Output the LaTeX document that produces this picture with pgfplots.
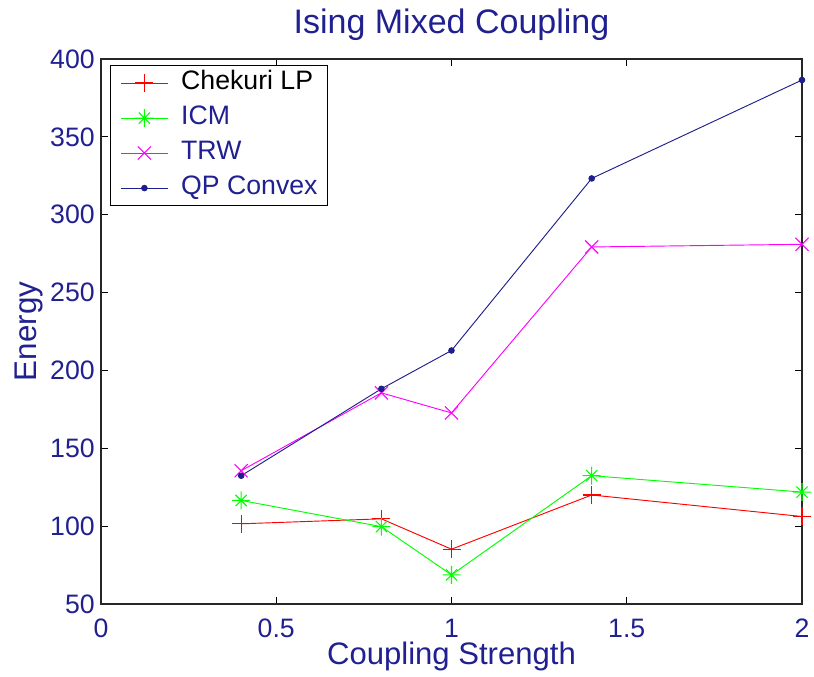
\documentclass[border=0pt]{standalone}
\usepackage{pgfplots}
\pgfplotsset{compat=1.18}
\usepackage{fontspec}
\setmainfont{Liberation Sans}
\definecolor{matnavy}{RGB}{32,32,144}
\definecolor{linenavy}{RGB}{30,30,140}
\definecolor{mred}{RGB}{255,0,0}
\definecolor{mgreen}{RGB}{0,255,0}
\definecolor{mmag}{RGB}{255,0,255}

\pgfdeclareplotmark{mx}{%
  \pgfpathmoveto{\pgfqpoint{-\pgfplotmarksize}{-\pgfplotmarksize}}%
  \pgfpathlineto{\pgfqpoint{\pgfplotmarksize}{\pgfplotmarksize}}%
  \pgfpathmoveto{\pgfqpoint{-\pgfplotmarksize}{\pgfplotmarksize}}%
  \pgfpathlineto{\pgfqpoint{\pgfplotmarksize}{-\pgfplotmarksize}}%
  \pgfusepathqstroke}
\pgfdeclareplotmark{mstar}{%
  \pgfpathmoveto{\pgfqpoint{-\pgfplotmarksize}{0pt}}%
  \pgfpathlineto{\pgfqpoint{\pgfplotmarksize}{0pt}}%
  \pgfpathmoveto{\pgfqpoint{0pt}{-\pgfplotmarksize}}%
  \pgfpathlineto{\pgfqpoint{0pt}{\pgfplotmarksize}}%
  \pgfpathmoveto{\pgfqpoint{-.62\pgfplotmarksize}{-.62\pgfplotmarksize}}%
  \pgfpathlineto{\pgfqpoint{.62\pgfplotmarksize}{.62\pgfplotmarksize}}%
  \pgfpathmoveto{\pgfqpoint{-.62\pgfplotmarksize}{.62\pgfplotmarksize}}%
  \pgfpathlineto{\pgfqpoint{.62\pgfplotmarksize}{-.62\pgfplotmarksize}}%
  \pgfusepathqstroke}

\begin{document}
\begin{tikzpicture}
\useasboundingbox (0,0) rectangle (610.5pt,507pt);
\begin{axis}[
  at={(75.75pt,54pt)}, anchor=south west,
  scale only axis, width=525.75pt, height=408.75pt,
  xmin=0, xmax=2, ymin=50, ymax=400,
  xtick={0,0.5,1,1.5,2}, ytick={50,100,...,400},
  tick align=inside, major tick length=5pt,
  axis line style={line width=0.9pt, black!85},
  every tick/.style={black, line width=0.7pt},
  clip=false,
  /pgf/number format/assume math mode=true,
  tick label style={font=\fontsize{20}{24}\selectfont, text=matnavy},
  xticklabel style={anchor=base, yshift=-24.75pt, inner sep=0pt},
  yticklabel style={anchor=east, xshift=-4.5pt, inner sep=0pt},
  title={Ising Mixed Coupling},
  title style={font=\fontsize{25.5}{30}\selectfont, text=matnavy, at={(axis description cs:0.5,1.0459)}, anchor=base, inner sep=0pt, yshift=-6pt},
  xlabel={Coupling Strength},
  xlabel style={font=\fontsize{23.3}{28}\selectfont, text=matnavy, at={(axis description cs:0.5,-0.1119)}, anchor=base, inner sep=0pt},
  ylabel={Energy},
  ylabel style={font=\fontsize{23.5}{28}\selectfont, text=matnavy, at={(axis description cs:-0.0917,0.5)}, anchor=base, inner sep=0pt},
  legend style={at={(axis description cs:0.01284,0.98897)}, anchor=north west,
    draw=black, line width=0.9pt, fill=white, inner xsep=7.5pt, inner ysep=2.6pt,
    column sep=9.75pt, row sep=5.25pt,
    font=\fontsize{20}{24}\selectfont, text=matnavy,
    nodes={inner sep=0pt, text height=15.5pt, text depth=5.5pt}},
  legend cell align=left,
  legend image code/.code={\draw[mark repeat=2,mark phase=2,#1] plot coordinates {(0pt,0pt)(17.5pt,0pt)(35pt,0pt)};},
]
\addplot[color=mred, line width=0.7pt, mark=+, mark size=6.75pt, mark options={color=mred, line width=0.95pt}] coordinates {
  (0.4,101.5) (0.8,104.7) (1.0,85.2) (1.4,120.0) (2.0,106.2)};
\addlegendentry{\textcolor{black}{Chekuri LP}}
\addplot[color=mgreen, line width=0.7pt, mark=mstar, mark size=6.75pt, mark options={color=mgreen, line width=0.8pt}] coordinates {
  (0.4,116.5) (0.8,99.7) (1.0,68.7) (1.4,132.4) (2.0,121.9)};
\addlegendentry{ICM}
\addplot[color=mmag, line width=0.7pt, mark=mx, mark size=4.9pt, mark options={color=mmag, line width=0.8pt}] coordinates {
  (0.4,135.6) (0.8,185.6) (1.0,172.7) (1.4,279.3) (2.0,281.0)};
\addlegendentry{TRW}
\addplot[color=linenavy, line width=0.7pt, mark=*, mark size=2.1pt, mark options={fill=linenavy, draw=linenavy}] coordinates {
  (0.4,132.4) (0.8,188.2) (1.0,212.8) (1.4,323.3) (2.0,386.5)};
\addlegendentry{QP Convex}
\end{axis}
\end{tikzpicture}
\end{document}
